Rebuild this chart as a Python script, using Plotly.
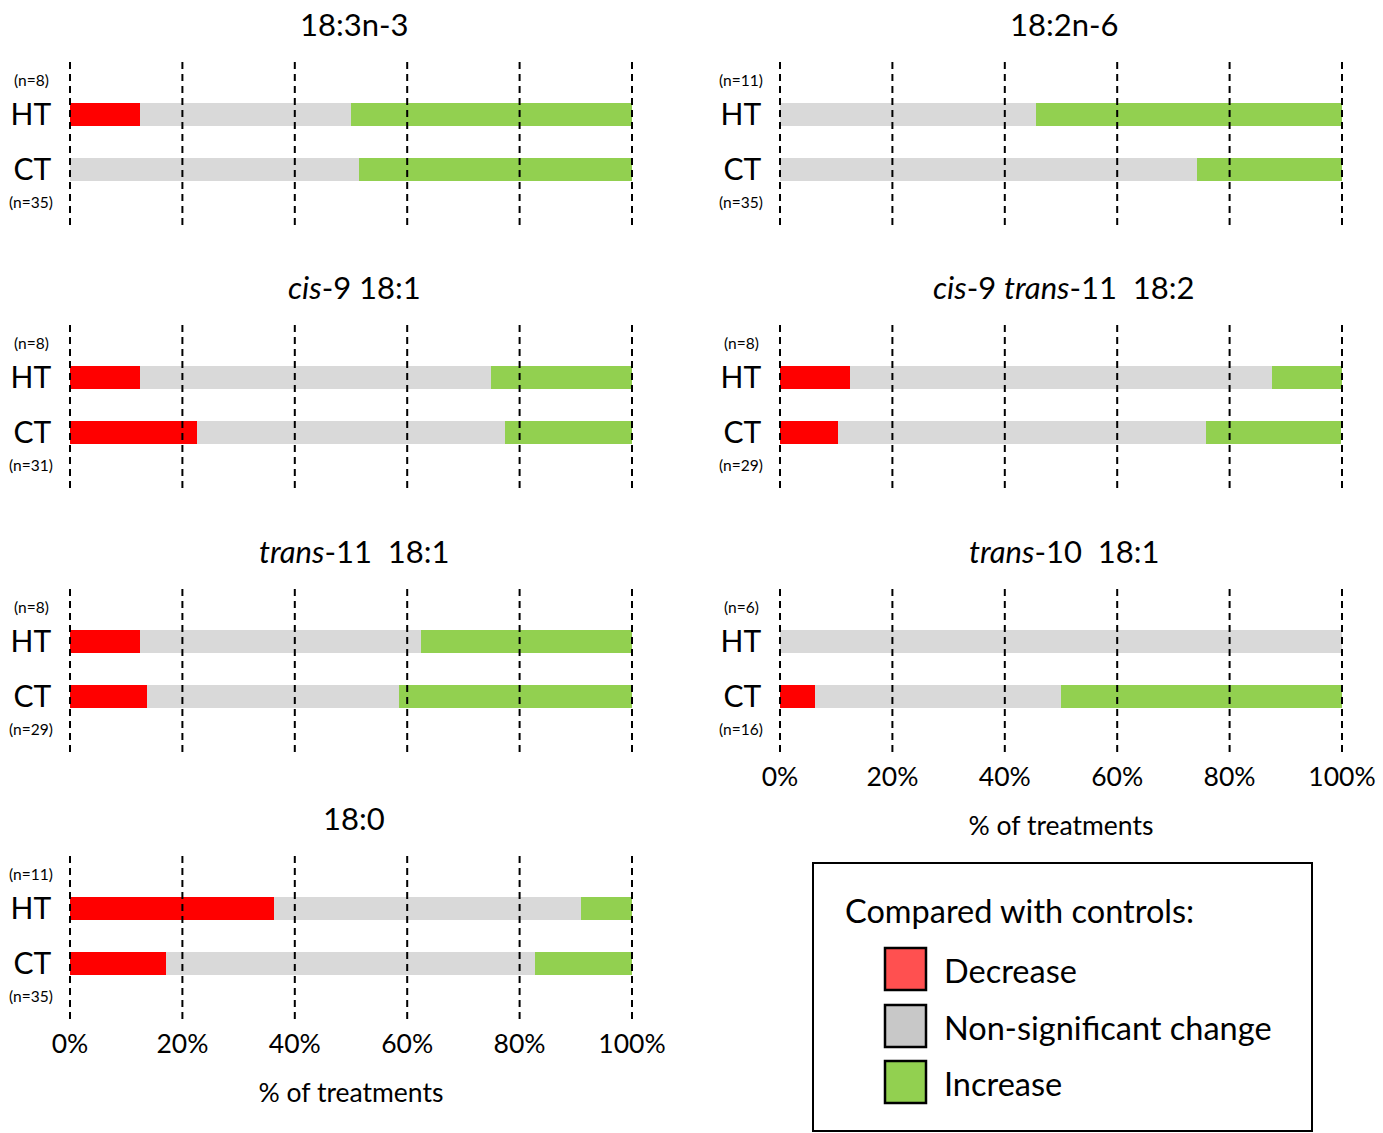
import plotly.graph_objects as go

# ---------------- data (percent of treatments) ----------------
panels = ["18:3n-3", "18:2n-6", "<i>cis</i>-9 18:1",
          "<i>cis</i>-9 <i>trans</i>-11 &nbsp;18:2",
          "<i>trans</i>-11 &nbsp;18:1", "<i>trans</i>-10 &nbsp;18:1", "18:0"]
groups = ["HT", "CT"]
n_ht = ["(n=8)", "(n=11)", "(n=8)", "(n=8)", "(n=8)", "(n=6)", "(n=11)"]
n_ct = ["(n=35)", "(n=35)", "(n=31)", "(n=29)", "(n=29)", "(n=16)", "(n=35)"]
# [HT, CT] per panel
decrease = [[12.5, 0.0], [0.0, 0.0], [12.5, 22.6], [12.5, 10.3],
            [12.5, 13.8], [0.0, 6.2], [36.4, 17.1]]
nonsig = [[37.5, 51.4], [45.5, 74.3], [62.5, 54.8], [75.0, 65.5],
          [50.0, 44.8], [100.0, 43.8], [54.5, 65.7]]
increase = [[50.0, 48.6], [54.5, 25.7], [25.0, 22.6], [12.5, 24.1],
            [37.5, 41.4], [0.0, 50.0], [9.1, 17.2]]
tick_vals = [0, 20, 40, 60, 80, 100]
tick_text = ["0%", "20%", "40%", "60%", "80%", "100%"]
legend_title = "Compared with controls:"
legend_labels = ["Decrease", "Non-significant change", "Increase"]

bar_colors = ["#FF0000", "#D9D9D9", "#92D050"]
legend_colors = ["#FF5050", "#C8C8C8", "#92D050"]
FONT = "Lato"

W, H = 1383, 1133
def px(x): return x / W
def py(y): return 1 - y / H

# layout geometry (pixels); 0% and 100% positions of each column
col_x = [(70, 632), (780, 1342)]
PAD = 0.5  # percent of range padding so edge guide lines are not clipped
row_top = [62, 325, 589, 856]
row_h = 163
cells = [(0, 0), (1, 0), (0, 1), (1, 1), (0, 2), (1, 2), (0, 3)]
bottom_panels = {5, 6}

fig = go.Figure()
annotations = []
shapes = []
for i, (c, r) in enumerate(cells):
    k = "" if i == 0 else str(i + 1)
    xa, ya = "x" + k, "y" + k
    for vals, name, col in zip([decrease, nonsig, increase], legend_labels, bar_colors):
        fig.add_trace(go.Bar(
            y=groups, x=vals[i], orientation="h", name=name,
            marker=dict(color=col, line=dict(width=0)), width=0.42,
            xaxis=xa, yaxis=ya, showlegend=False, hoverinfo="x+y+name"))
    x0, x1 = col_x[c]
    ppu = (x1 - x0) / 100.0
    t = row_top[r]
    xdom = [px(x0 - PAD * ppu), px(x1 + PAD * ppu)]
    ydom = [py(t + row_h), py(t)]
    show = i in bottom_panels
    fig.layout["xaxis" + k] = dict(
        domain=xdom, anchor=ya, range=[-PAD, 100 + PAD], tickvals=tick_vals,
        ticktext=tick_text, automargin=False,
        showticklabels=show, showgrid=False, zeroline=False, showline=False,
        ticks="outside" if show else "", ticklen=1, tickcolor="rgba(0,0,0,0)",
        tickfont=dict(family=FONT, size=26.5, color="black"),
        title=dict(text="% of treatments" if show else "",
                   font=dict(family=FONT, size=26.5, color="black"), standoff=25),
        fixedrange=True)
    fig.layout["yaxis" + k] = dict(
        domain=ydom, anchor=xa, type="category", categoryarray=["CT", "HT"],
        range=[-1.018, 1.951], showgrid=False, zeroline=False, showline=False,
        ticks="", ticklabelstandoff=15, automargin=False,
        tickfont=dict(family=FONT, size=30, color="black"), fixedrange=True)
    # dashed vertical guide lines at the tick positions, drawn above bars
    for tv in tick_vals:
        shapes.append(dict(type="line", xref=xa, yref=ya + " domain", x0=tv, x1=tv,
                           y0=0, y1=1, layer="above",
                           line=dict(color="black", width=2, dash="7px,5px")))
    # panel title
    annotations.append(dict(text=panels[i], xref="paper", yref="paper",
                            x=px((x0 + x1) / 2 + 3), y=py(t - 38),
                            showarrow=False, xanchor="center", yanchor="middle",
                            font=dict(family=FONT, size=31, color="black")))
    # sample sizes
    lx = x0 - 39
    annotations.append(dict(text=n_ht[i], xref="paper", yref=ya, x=px(lx), y="HT",
                            yshift=34, showarrow=False, xanchor="center",
                            font=dict(family=FONT, size=15.5, color="black")))
    annotations.append(dict(text=n_ct[i], xref="paper", yref=ya, x=px(lx), y="CT",
                            yshift=-33, showarrow=False, xanchor="center",
                            font=dict(family=FONT, size=15.5, color="black")))

# manual legend box
shapes.append(dict(type="rect", xref="paper", yref="paper", x0=px(813), x1=px(1312),
                   y0=py(1131), y1=py(863), line=dict(color="black", width=2),
                   fillcolor="white", layer="below"))
annotations.append(dict(text=legend_title, xref="paper", yref="paper", x=px(843),
                        y=py(910), xanchor="left", yanchor="middle", showarrow=False,
                        font=dict(family=FONT, size=32.5, color="black")))
sw_y = [948, 1005, 1061]
for j, (lab, colr) in enumerate(zip(legend_labels, legend_colors)):
    y0 = sw_y[j]
    shapes.append(dict(type="rect", xref="paper", yref="paper", x0=px(885), x1=px(926),
                       y0=py(y0 + 42), y1=py(y0), fillcolor=colr,
                       line=dict(color="black", width=2.5)))
    annotations.append(dict(text=lab, xref="paper", yref="paper", x=px(942),
                            y=py(y0 + 22), xanchor="left", yanchor="middle",
                            showarrow=False,
                            font=dict(family=FONT, size=32.5, color="black")))

fig.update_layout(width=W, height=H, margin=dict(l=0, r=0, t=0, b=0, autoexpand=False),
                  barmode="stack", bargap=0, plot_bgcolor="white",
                  paper_bgcolor="white", shapes=shapes, annotations=annotations,
                  font=dict(family=FONT, color="black"))
fig.write_html("out.html", config={"displayModeBar": False},
               post_script="document.body.style.margin='0px';document.body.style.overflow='hidden';")
